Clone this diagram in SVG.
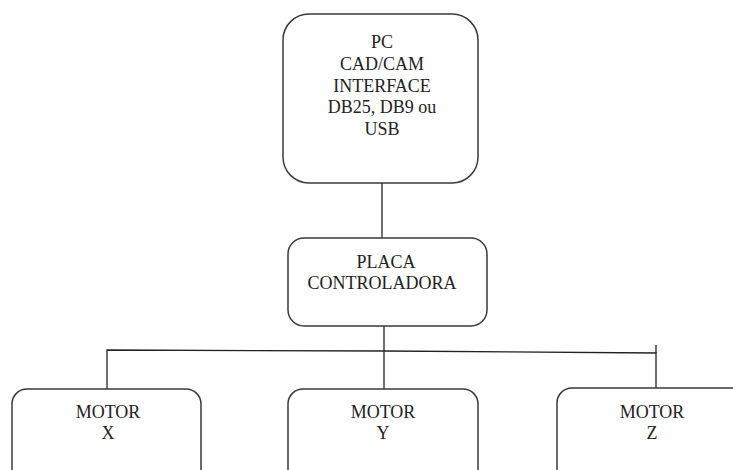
<svg xmlns="http://www.w3.org/2000/svg" width="733" height="470" viewBox="0 0 733 470">
<style>
.box{fill:#fff;stroke:#3a3a3a;stroke-width:1.5}
.ln{fill:none;stroke:#222;stroke-width:1.3}
text{font-family:"Liberation Serif","Times New Roman",serif;font-size:18px;fill:#222;text-anchor:middle}
</style>
<rect width="733" height="470" fill="#fff"/>
<g id="connectors">
<path class="ln" d="M382,183 V238"/>
<path class="ln" d="M384,326 V389"/>
<path class="ln" d="M107,389 V350 L384,351 L656,353 V389"/>
<path class="ln" d="M656,353 V345"/>
</g>
<g id="pc">
<rect class="box" x="283" y="14" width="195" height="169" rx="26"/>
<text x="382" y="48">PC</text>
<text x="382" y="70">CAD/CAM</text>
<text x="382" y="92">INTERFACE</text>
<text x="382" y="113">DB25, DB9 ou</text>
<text x="382" y="135">USB</text>
</g>
<g id="placa">
<rect class="box" x="288" y="238" width="199" height="88" rx="16"/>
<text x="386" y="268">PLACA</text>
<text x="382" y="289">CONTROLADORA</text>
</g>
<g id="motorx">
<rect class="box" x="12" y="389" width="189" height="100" rx="15"/>
<text x="108" y="418">MOTOR</text>
<text x="108" y="439">X</text>
</g>
<g id="motory">
<rect class="box" x="288" y="389" width="190" height="100" rx="15"/>
<text x="383" y="418">MOTOR</text>
<text x="383" y="439">Y</text>
</g>
<g id="motorz">
<rect class="box" x="557" y="388" width="200" height="100" rx="15"/>
<text x="652" y="418">MOTOR</text>
<text x="652" y="439">Z</text>
</g>
</svg>
